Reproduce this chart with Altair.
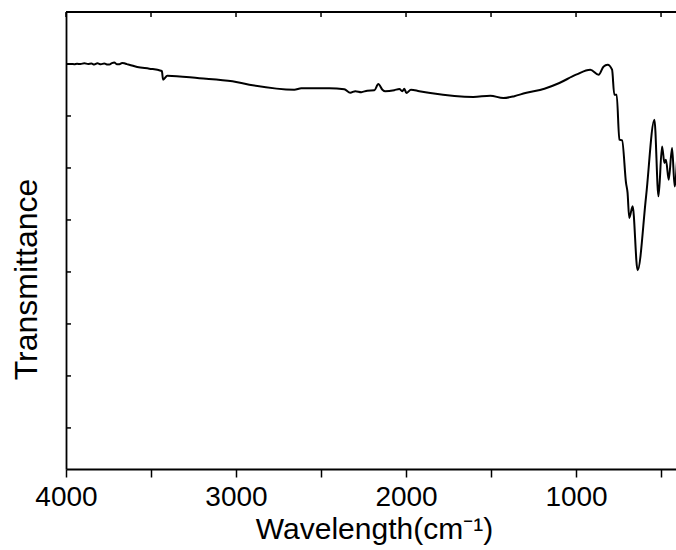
import altair as alt
import pandas as pd

# Wavenumber (cm^-1) and transmittance
wavenumber = [4000, 3970, 3951, 3935, 3915, 3892, 3870, 3850, 3834, 3815, 3795, 3775,
              3760, 3745, 3730, 3716, 3700, 3686, 3670, 3657, 3642, 3628, 3581, 3510,
              3442, 3436, 3429, 3404, 3216, 3021, 2922, 2657, 2616, 2451, 2363, 2328, 2298,
              2263, 2228, 2186, 2163, 2139, 2122, 2069, 2039, 2022, 2010, 1998, 1971,
              1922, 1857, 1604, 1504, 1428, 1363, 1298, 1186, 1098, 1000, 916, 867,
              839, 814, 788, 775, 761, 745, 729, 706, 697, 687, 667, 638, 588, 539,
              515, 494, 480, 471, 455, 435, 420, 405]
transmittance = [80.0, 80.02, 79.96, 80.05, 79.98, 80.15, 80.0, 80.08, 79.9, 80.12, 79.95, 80.1,
                 79.92, 79.9, 80.18, 80.29, 79.95, 79.96, 80.2, 80.15, 79.98, 79.87, 79.42, 79.1,
                 78.71, 78.6, 76.98, 77.75, 77.27, 76.67, 76.02, 75.06, 75.33, 75.35, 75.15, 74.48, 74.77,
                 74.58, 74.87, 74.94, 76.15, 75.06, 74.75, 74.96, 75.19, 74.77, 75.25, 74.42, 75.06,
                 74.77, 74.42, 73.65, 73.9, 73.46, 73.81, 74.42, 75.25, 76.35, 77.94, 78.9, 77.94,
                 79.48, 79.87, 78.9, 74.1, 74.1, 65.44, 65.31, 57.12, 55.25, 50.38, 52.62, 40.33, 54.54, 69.29,
                 54.54, 64.15, 60.96, 61.6, 57.75, 63.85, 56.46, 62.0]

x_ticks = [4000, 3500, 3000, 2500, 2000, 1500, 1000, 500]
y_ticks = [10, 20, 30, 40, 50, 60, 70, 80]

X_DOMAIN = [412, 4000]
Y_DOMAIN = [2.1, 90]
W, H = 610, 457
FONT = "Liberation Sans"

df = pd.DataFrame({"wn": wavenumber, "t": transmittance})
xt = pd.DataFrame({"wn": x_ticks})
yt = pd.DataFrame({"t": y_ticks})

xscale = alt.Scale(domain=X_DOMAIN, reverse=True, nice=False, zero=False)
yscale = alt.Scale(domain=Y_DOMAIN, nice=False, zero=False)

line = alt.Chart(df).mark_line(color="black", strokeWidth=2, interpolate="monotone", clip=True).encode(
    x=alt.X("wn:Q", scale=xscale,
            axis=alt.Axis(values=x_ticks, format="d",
                          labelExpr="datum.value % 1000 === 0 ? datum.label : ''",
                          tickSize=8, labelPadding=6, labelFontSize=28, labelFont=FONT,
                          labelColor="black", grid=False,
                          title="Wavelength(cm\u207B\u00B9)", titleFontSize=30, titleFont=FONT,
                          titleFontWeight="normal", titleColor="black",
                          titleX=308, titleY=69, titleBaseline="alphabetic", titleAlign="center",
                          labelOverlap=False, labelFlush=False)),
    y=alt.Y("t:Q", scale=yscale,
            axis=alt.Axis(labels=False, ticks=False, grid=False,
                          title="Transmittance", titleFontSize=32, titleFont=FONT,
                          titleFontWeight="normal", titleColor="black", titleAngle=-90,
                          titleX=-30, titleY=267, titleBaseline="alphabetic", titleAlign="center")),
)

top_border = alt.Chart(df).mark_rule(color="black", strokeWidth=1.8).encode(
    x=alt.value(0), x2=alt.value(W), y=alt.value(0)
)

top_ticks = alt.Chart(xt).mark_rule(color="black", strokeWidth=1.5).encode(
    x=alt.X("wn:Q", scale=xscale), y=alt.value(0), y2=alt.value(5)
)

left_ticks = alt.Chart(yt).mark_rule(color="black", strokeWidth=1.5).encode(
    y=alt.Y("t:Q", scale=yscale), x=alt.value(0), x2=alt.value(5)
)

chart = alt.layer(line, top_border, top_ticks, left_ticks).properties(
    width=W, height=H,
    autosize=alt.AutoSizeParams(type="none"),
    padding={"left": 66, "top": 12, "right": 0, "bottom": 81},
).configure_view(stroke=None).configure_axis(
    domainColor="black", domainWidth=1.8, tickColor="black", tickWidth=1.5
)

chart.save("out.html", embed_options={"renderer": "svg", "actions": False})
